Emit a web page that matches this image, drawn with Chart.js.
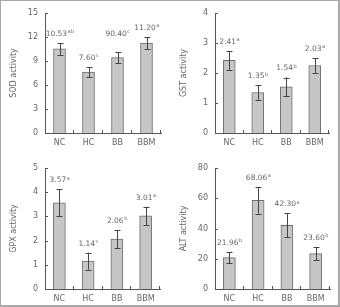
<!DOCTYPE html>
<html>
<head>
<meta charset="utf-8">
<script src="https://cdn.jsdelivr.net/npm/chart.js@4.4.1/dist/chart.umd.min.js"></script>
<style>
    html, body { margin: 0; padding: 0; background: #fff; }
    #frame { position: relative; width: 340px; height: 307px; box-sizing: border-box; border: 2px solid #a8a8a8; border-top-width: 1px; border-left-width: 1px; overflow: hidden; }
    canvas { position: absolute; }
</style>
</head>
<body>
<div id="frame">
    <canvas id="sod" width="170" height="153" style="left:-1px;top:-1px"></canvas>
    <canvas id="gst" width="170" height="153" style="left:169px;top:-1px"></canvas>
    <canvas id="gpx" width="170" height="154" style="left:-1px;top:152px"></canvas>
    <canvas id="alt" width="170" height="154" style="left:169px;top:152px"></canvas>
</div>
<script>
// Groups on the x axis
const categories = ['NC', 'HC', 'BB', 'BBM'];

// SOD panel
const sodValues = [10.53, 7.60, 9.42, 11.23];
const sodErrors = [0.74, 0.63, 0.68, 0.78];
const sodLabels = ['10.53', '7.60', '90.40', '11.20'];
const sodLetters = ['ab', 'c', 'c', 'a'];
const sodTicks = [0, 3, 6, 9, 12, 15];

// GST panel
const gstValues = [2.42, 1.35, 1.54, 2.25];
const gstErrors = [0.31, 0.24, 0.31, 0.25];
const gstLabels = ['2.41', '1.35', '1.54', '2.03'];
const gstLetters = ['a', 'b', 'b', 'a'];
const gstTicks = [0, 1, 2, 3, 4];

// GPX panel
const gpxValues = [3.56, 1.15, 2.06, 3.02];
const gpxErrors = [0.56, 0.35, 0.37, 0.38];
const gpxLabels = ['3.57', '1.14', '2.06', '3.01'];
const gpxLetters = ['a', 'c', 'b', 'a'];
const gpxTicks = [0, 1, 2, 3, 4, 5];

// ALT panel
const altValues = [20.7, 58.7, 42.1, 23.4];
const altErrors = [3.8, 8.8, 8.0, 4.4];
const altLabels = ['21.96', '68.06', '42.30', '23.60'];
const altLetters = ['b', 'a', 'a', 'b'];
const altTicks = [0, 20, 40, 60, 80];

const fontFamily = '"DejaVu Sans", sans-serif';
const textColor = '#666';
const axisColor = '#555';

// error bars + value labels with superscript letters
const annotatePlugin = {
    id: 'annotate',
    afterDatasetsDraw(chart, args, opts) {
        const ctx = chart.ctx;
        const yScale = chart.scales.y;
        const meta = chart.getDatasetMeta(0);
        ctx.save();
        meta.data.forEach((bar, i) => {
            const v = opts.values[i];
            const e = opts.errors[i];
            const top = yScale.getPixelForValue(v + e);
            const bottom = yScale.getPixelForValue(v - e);
            const x = Math.round(bar.x) + 0.5;
            ctx.strokeStyle = '#444';
            ctx.lineWidth = 1;
            ctx.beginPath();
            ctx.moveTo(x, top);
            ctx.lineTo(x, bottom);
            ctx.moveTo(x - 3, Math.round(top) + 0.5);
            ctx.lineTo(x + 3, Math.round(top) + 0.5);
            ctx.moveTo(x - 3, Math.round(bottom) + 0.5);
            ctx.lineTo(x + 3, Math.round(bottom) + 0.5);
            ctx.stroke();

            // label
            const lift = (opts.lift && opts.lift[i]) || 0;
            const ly = top - 9 - lift;
            ctx.font = '7.5px ' + fontFamily;
            const mainW = ctx.measureText(opts.labels[i]).width;
            ctx.font = '5px ' + fontFamily;
            const supW = ctx.measureText(opts.letters[i]).width;
            const startX = bar.x - (mainW + supW) / 2;
            ctx.fillStyle = textColor;
            ctx.textBaseline = 'middle';
            ctx.textAlign = 'left';
            ctx.font = '7.5px ' + fontFamily;
            ctx.fillText(opts.labels[i], startX, ly);
            ctx.font = '5px ' + fontFamily;
            ctx.fillText(opts.letters[i], startX + mainW + 0.5, ly - 2);
        });
        ctx.restore();
    },
    afterDraw(chart) {
        // inward tick marks on both axes
        const ctx = chart.ctx;
        const area = chart.chartArea;
        const xScale = chart.scales.x;
        const yScale = chart.scales.y;
        ctx.save();
        ctx.strokeStyle = axisColor;
        ctx.lineWidth = 1;
        ctx.beginPath();
        yScale.ticks.forEach(t => {
            const py = Math.round(yScale.getPixelForValue(t.value)) + 0.5;
            ctx.moveTo(area.left, py);
            ctx.lineTo(area.left + 3, py);
        });
        for (let i = 0; i < categories.length; i++) {
            const next = i < categories.length - 1 ? xScale.getPixelForValue(i + 1) : null;
            const bx = next === null ? area.right : (xScale.getPixelForValue(i) + next) / 2;
            const px = Math.round(bx) - 0.5;
            ctx.moveTo(px, area.bottom);
            ctx.lineTo(px, area.bottom - 3);
        }
        ctx.stroke();
        ctx.restore();
    }
};

function makeChart(id, title, values, errors, labels, letters, ticks, pad, lift) {
    const ctx = document.getElementById(id).getContext('2d');
    return new Chart(ctx, {
        type: 'bar',
        data: {
            labels: categories,
            datasets: [{
                data: values,
                backgroundColor: '#c6c6c6',
                borderColor: '#6e6e6e',
                borderWidth: 1,
                barThickness: 12
            }]
        },
        options: {
            responsive: false,
            animation: false,
            events: [],
            layout: { padding: pad },
            plugins: {
                legend: { display: false },
                tooltip: { enabled: false },
                annotate: { values, errors, labels, letters, lift }
            },
            scales: {
                x: {
                    grid: { display: false, drawTicks: false },
                    border: { display: true, color: axisColor, width: 1 },
                    ticks: { color: textColor, font: { family: fontFamily, size: 8 }, padding: 5 },
                    afterFit: s => { s.height = pad.xh; }
                },
                y: {
                    min: ticks[0],
                    max: ticks[ticks.length - 1],
                    grid: { display: false, drawTicks: false },
                    border: { display: true, color: axisColor, width: 1 },
                    afterBuildTicks: s => { s.ticks = ticks.map(v => ({ value: v })); },
                    ticks: { color: textColor, font: { family: fontFamily, size: 8 }, padding: 7 },
                    title: {
                        display: true,
                        text: title,
                        color: textColor,
                        font: { family: fontFamily, size: 8 },
                        padding: { top: 9, bottom: 0 }
                    },
                    afterFit: s => { s.width = 45; }
                }
            }
        },
        plugins: [annotatePlugin]
    });
}

makeChart('sod', 'SOD activity', sodValues, sodErrors, sodLabels, sodLetters, sodTicks,
    { left: 0, top: 13, right: 9, bottom: 0, xh: 20 }, [0, 0, 9, 0]);
makeChart('gst', 'GST activity', gstValues, gstErrors, gstLabels, gstLetters, gstTicks,
    { left: 0, top: 13, right: 11, bottom: 0, xh: 20 }, null);
makeChart('gpx', 'GPX activity', gpxValues, gpxErrors, gpxLabels, gpxLetters, gpxTicks,
    { left: 0, top: 15, right: 10, bottom: 0, xh: 18 }, null);
makeChart('alt', 'ALT activity', altValues, altErrors, altLabels, altLetters, altTicks,
    { left: 0, top: 15, right: 10, bottom: 0, xh: 18 }, null);
</script>
</body>
</html>
